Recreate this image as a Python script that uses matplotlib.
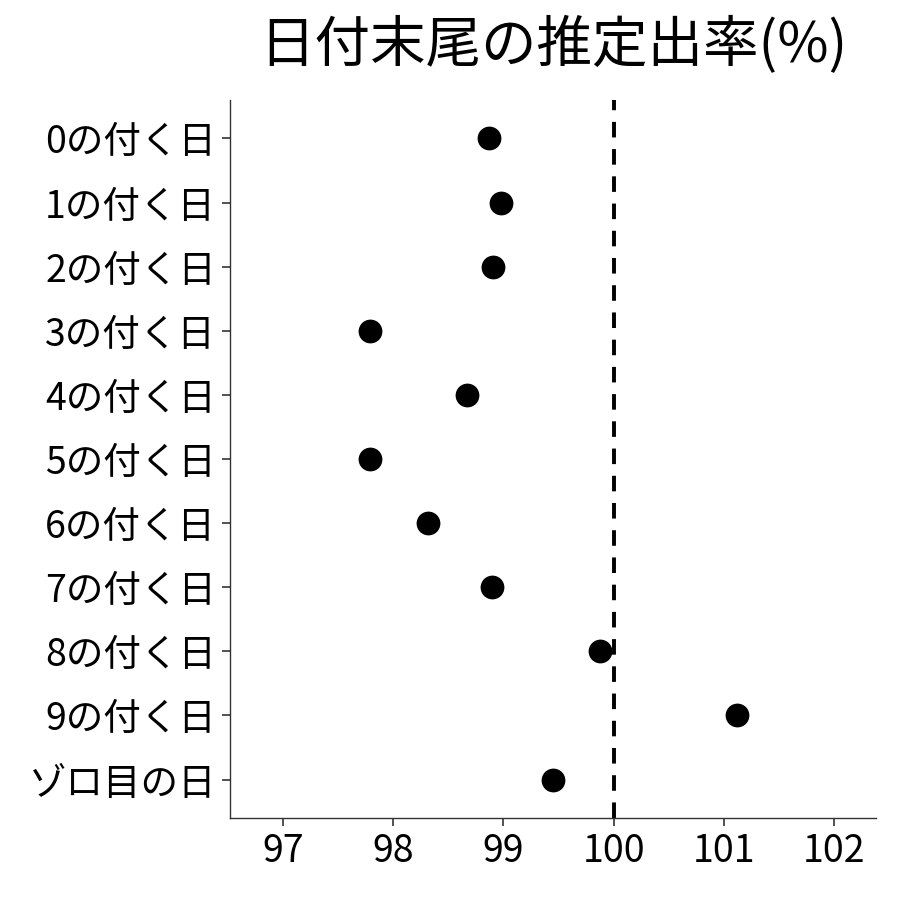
import matplotlib
matplotlib.use("Agg")
import matplotlib.pyplot as plt

plt.rcParams['font.family'] = ['Noto Sans CJK JP', 'DejaVu Sans']

# 日付末尾ごとの推定出率
labels = ["0の付く日", "1の付く日", "2の付く日", "3の付く日", "4の付く日",
          "5の付く日", "6の付く日", "7の付く日", "8の付く日", "9の付く日", "ゾロ目の日"]
rates = [98.87, 98.98, 98.91, 97.79, 98.67, 97.79, 98.32, 98.90, 99.88, 101.12, 99.45]
xticks = [97, 98, 99, 100, 101, 102]

fig = plt.figure(figsize=(9, 9), dpi=100)
ax = fig.add_axes([230/900, 1 - 818/900, (876-230)/900, (818-100)/900])

ypos = list(range(len(labels)))
ax.scatter(rates, ypos, s=260, color="black", zorder=3)
ax.axvline(100, color="black", linestyle=(0, (4, 3)), linewidth=2.8)

ax.set_xlim(96.52, 102.38)
ax.set_ylim(len(labels) - 0.4, -0.6)
ax.set_yticks(ypos)
ax.set_yticklabels(labels)
ax.set_xticks(xticks)
ax.set_xticklabels([str(v) for v in xticks])

for s in ["top", "right"]:
    ax.spines[s].set_visible(False)
for s in ["left", "bottom"]:
    ax.spines[s].set_color("#333333")
    ax.spines[s].set_linewidth(1.0)
ax.tick_params(axis="both", labelsize=27, length=6, width=1.2, color="#333333",
               labelcolor="black", pad=4)

fig.text(553/900, 1 - 46/900, "日付末尾の推定出率(%)", fontsize=40,
         ha="center", va="center")

fig.savefig("out.png", dpi=100)
